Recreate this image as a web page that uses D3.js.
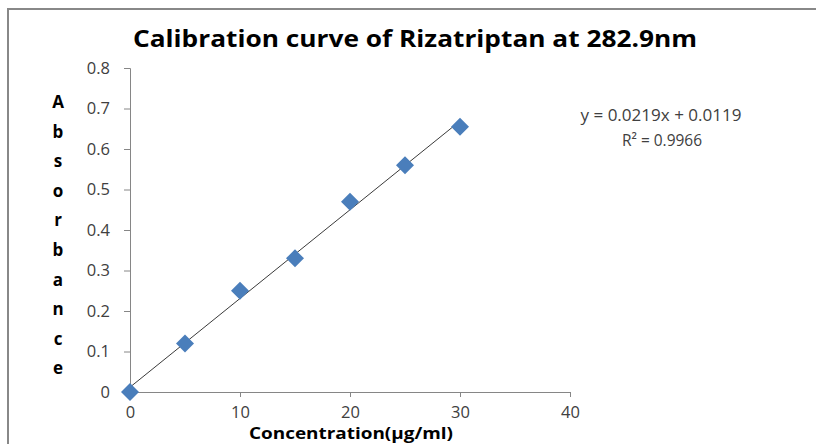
<!DOCTYPE html>
<html>
<head>
<meta charset="utf-8">
<script src="https://cdn.jsdelivr.net/npm/d3@7"></script>
<style>
  body { margin: 0; background: #fff; }
  svg { display: block; font-family: "Open Sans", "DejaVu Sans", sans-serif; }
</style>
</head>
<body>
<svg id="chart" width="816" height="444"></svg>
<script>
// data
const concentration = [0, 5, 10, 15, 20, 25, 30];
const absorbance = [0, 0.12, 0.25, 0.33, 0.47, 0.56, 0.655];
const xTicks = [0, 10, 20, 30, 40];
const yTicks = [0, 0.1, 0.2, 0.3, 0.4, 0.5, 0.6, 0.7, 0.8];
const slope = 0.0219;
const intercept = 0.0119;
const rSquared = 0.9966;
const yLabelLetters = ['A', 'b', 's', 'o', 'r', 'b', 'a', 'n', 'c', 'e'];

const svg = d3.select('#chart');

// chart frame (only top and left edges show in the crop)
svg.append('path')
  .attr('d', 'M8,450 L8,9 L830,9')
  .attr('fill', 'none')
  .attr('stroke', '#888')
  .attr('stroke-width', 2);

const x = d3.scaleLinear().domain([0, 40]).range([130, 570]);
const y = d3.scaleLinear().domain([0, 0.8]).range([392, 68]);

const axisColor = '#868686';
const textColor = '#404040';

// y axis
const yAxis = svg.append('g')
  .attr('transform', 'translate(' + x(0) + ',0)')
  .call(d3.axisLeft(y).tickValues(yTicks).tickSize(6).tickPadding(14)
    .tickFormat(d => d === 0 ? '0' : d3.format('.1f')(d)));
yAxis.select('.domain').attr('stroke', axisColor);
yAxis.selectAll('.tick line').attr('stroke', axisColor);
yAxis.selectAll('.tick text')
  .attr('fill', textColor)
  .attr('font-size', 16.5)
  .attr('font-family', '"Open Sans", sans-serif');

// x axis
const xAxis = svg.append('g')
  .attr('transform', 'translate(0,' + y(0) + ')')
  .call(d3.axisBottom(x).tickValues(xTicks).tickSize(5).tickPadding(9));
xAxis.select('.domain').attr('stroke', axisColor);
xAxis.selectAll('.tick line').attr('stroke', axisColor);
xAxis.selectAll('.tick text')
  .attr('fill', textColor)
  .attr('font-size', 16.5)
  .attr('font-family', '"Open Sans", sans-serif');

// linear trendline
svg.append('line')
  .attr('x1', x(0))
  .attr('y1', y(intercept))
  .attr('x2', x(30))
  .attr('y2', y(slope * 30 + intercept))
  .attr('stroke', '#3a3a3a')
  .attr('stroke-width', 1);

// diamond markers
const points = concentration.map((c, i) => ({ c: c, a: absorbance[i] }));
svg.append('g')
  .selectAll('path')
  .data(points)
  .enter()
  .append('path')
  .attr('d', 'M0,-9 L9,0 L0,9 L-9,0 Z')
  .attr('transform', d => 'translate(' + x(d.c) + ',' + y(d.a) + ')')
  .attr('fill', '#4a7ebb');

// title
svg.append('text')
  .attr('x', 415)
  .attr('y', 47)
  .attr('text-anchor', 'middle')
  .attr('font-size', 24)
  .attr('font-weight', 'bold')
  .attr('font-family', '"Open Sans", sans-serif')
  .attr('textLength', 564)
  .attr('lengthAdjust', 'spacingAndGlyphs')
  .text('Calibration curve of Rizatriptan at 282.9nm');

// stacked y axis title
svg.append('g')
  .selectAll('text')
  .data(yLabelLetters)
  .enter()
  .append('text')
  .attr('x', 58)
  .attr('y', (d, i) => 108 + i * 29.6)
  .attr('text-anchor', 'middle')
  .attr('font-size', 17)
  .attr('font-weight', 'bold')
  .attr('font-family', '"Open Sans", sans-serif')
  .text(d => d);

// x axis title
svg.append('text')
  .attr('x', 351)
  .attr('y', 439)
  .attr('text-anchor', 'middle')
  .attr('font-size', 16)
  .attr('font-weight', 'bold')
  .attr('font-family', '"Open Sans", sans-serif')
  .attr('textLength', 204)
  .attr('lengthAdjust', 'spacingAndGlyphs')
  .text('Concentration(µg/ml)');

// regression equation
const eq = svg.append('g')
  .attr('fill', textColor)
  .attr('font-family', '"Open Sans", sans-serif')
  .attr('text-anchor', 'middle');
eq.append('text')
  .attr('x', 661)
  .attr('y', 121)
  .attr('font-size', 16)
  .attr('textLength', 161)
  .attr('lengthAdjust', 'spacingAndGlyphs')
  .text('y = ' + slope + 'x + ' + intercept);
eq.append('text')
  .attr('x', 662)
  .attr('y', 146)
  .attr('font-size', 17)
  .attr('textLength', 80)
  .attr('lengthAdjust', 'spacingAndGlyphs')
  .text('R² = ' + rSquared);
</script>
</body>
</html>
